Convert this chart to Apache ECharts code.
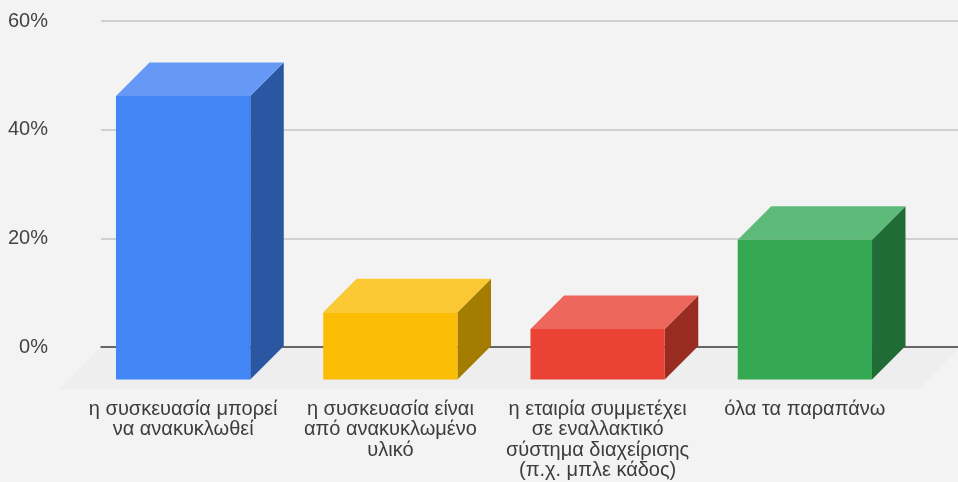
<!DOCTYPE html>
<html>
<head>
<meta charset="utf-8">
<style>
html, body { margin: 0; padding: 0; background: #f3f3f3; }
#container1 { width: 958px; height: 482px; }
</style>
<script src="https://cdn.jsdelivr.net/npm/echarts@6/dist/echarts.min.js"></script>
</head>
<body>
<div id="container1"></div>
<script>
var categories = [
    'η συσκευασία μπορεί\nνα ανακυκλωθεί',
    'η συσκευασία είναι\nαπό ανακυκλωμένο\nυλικό',
    'η εταιρία συμμετέχει\nσε εναλλακτικό\nσύστημα διαχείρισης\n(π.χ. μπλε κάδος)',
    'όλα τα παραπάνω'
];
var values = [52.2, 12.4, 9.3, 25.7];
var frontColors = ['#4285f4', '#fbbc04', '#ea4335', '#34a853'];
var topColors = ['#6699f6', '#fcc934', '#ee675c', '#5eba78'];
var sideColors = ['#2a56a2', '#a47c00', '#982c21', '#206c36'];

var depth = 33.5; // how far the back of each box sits up and to the right

function face(points, color) {
    return {
        type: 'polygon',
        shape: { points: points },
        style: { fill: color }
    };
}

function renderBox(params, api) {
    var i = api.value(0);
    var base = api.coord([i, 0]);
    var top = api.coord([i, api.value(1)]);
    var w = api.size([1, 0])[0] * 0.648;
    var l = base[0] - w / 2;
    var r = base[0] + w / 2;
    return {
        type: 'group',
        children: [
            face([[r, top[1]], [r + depth, top[1] - depth], [r + depth, base[1] - depth], [r, base[1]]], sideColors[i]),
            face([[l, top[1]], [l + depth, top[1] - depth], [r + depth, top[1] - depth], [r, top[1]]], topColors[i]),
            face([[l, top[1]], [r, top[1]], [r, base[1]], [l, base[1]]], frontColors[i])
        ]
    };
}

var chart = echarts.init(document.getElementById('container1'));
var option = {
    backgroundColor: '#f3f3f3',
    animation: false,
    graphic: [{
        type: 'polygon',
        z: -1,
        shape: { points: [[60, 389], [101, 347], [960, 347], [919, 389]] },
        style: { fill: '#eeeeee' }
    }],
    grid: [
        // back wall: carries the gridlines and percent labels
        { left: 101, width: 857, top: 21, height: 326 },
        // front plane: the boxes stand on this one
        { left: 79.5, width: 829, top: 53.5, height: 326 }
    ],
    xAxis: [
        {
            type: 'category',
            gridIndex: 0,
            data: categories,
            axisTick: { show: false },
            axisLabel: { show: false },
            axisLine: { lineStyle: { color: '#444444', width: 1.5 } }
        },
        {
            type: 'category',
            gridIndex: 1,
            data: categories,
            axisLine: { show: false },
            axisTick: { show: false },
            axisLabel: {
                interval: 0,
                margin: 20,
                fontFamily: 'Liberation Sans',
                fontSize: 20,
                lineHeight: 20.3,
                color: '#3c3c3c'
            }
        }
    ],
    yAxis: [
        {
            type: 'value',
            gridIndex: 0,
            min: 0,
            max: 60,
            interval: 20,
            axisLine: { show: false },
            axisTick: { show: false },
            axisLabel: {
                margin: 53,
                formatter: '{value}%',
                fontFamily: 'Liberation Sans',
                fontSize: 20,
                color: '#444444'
            },
            splitLine: { lineStyle: { color: '#c4c4c4', width: 1.5 } }
        },
        {
            type: 'value',
            gridIndex: 1,
            min: 0,
            max: 60,
            show: false
        }
    ],
    series: [{
        type: 'custom',
        xAxisIndex: 1,
        yAxisIndex: 1,
        clip: false,
        z: 5,
        renderItem: renderBox,
        encode: { x: 0, y: 1 },
        data: values.map(function (v, i) { return [i, v]; })
    }]
};
chart.setOption(option);
</script>
</body>
</html>
